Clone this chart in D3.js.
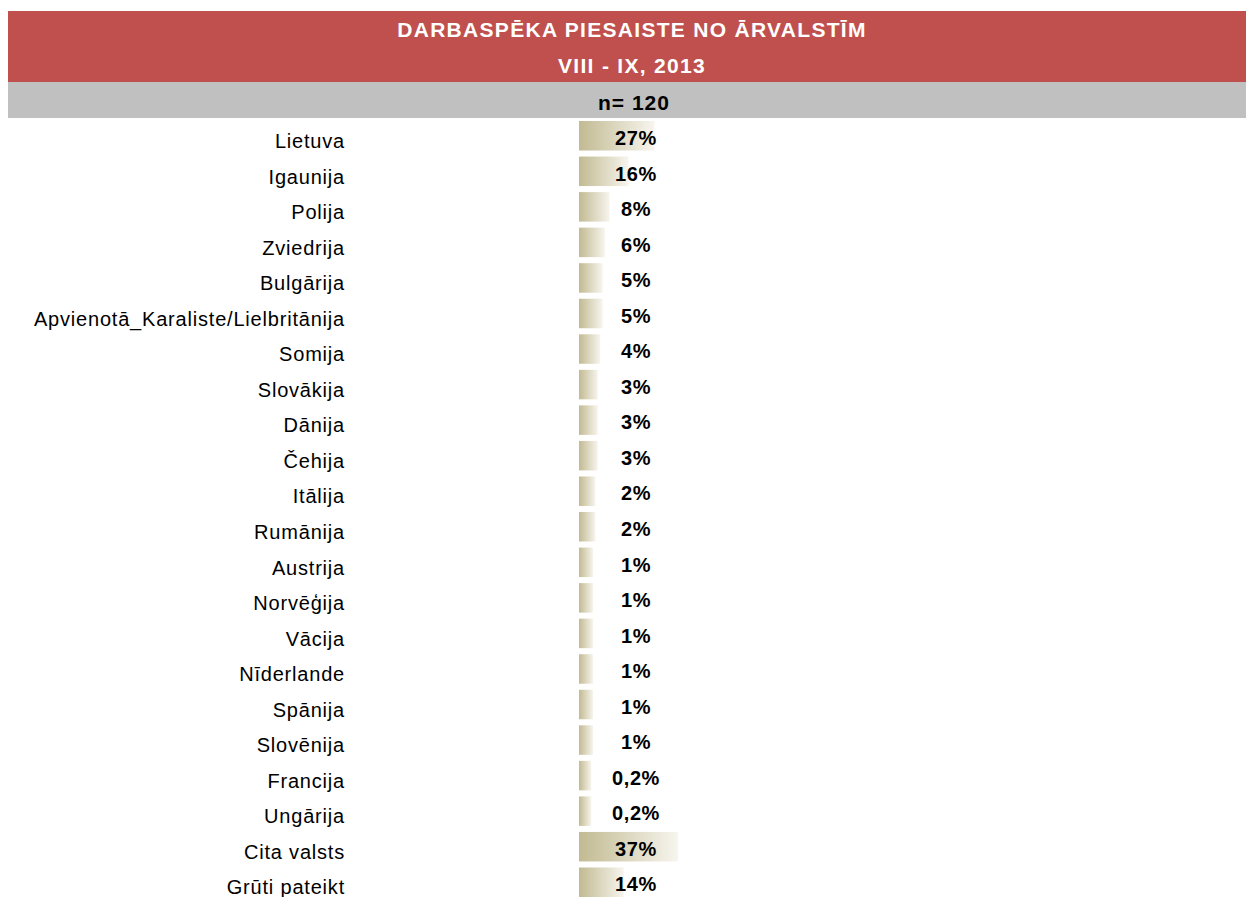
<!DOCTYPE html>
<html>
<head>
<meta charset="utf-8">
<title>Darbaspēka piesaiste no ārvalstīm</title>
<script src="https://d3js.org/d3.v7.min.js"></script>
<style>
body { margin: 0; background: #fff; }
svg text { font-family: "Liberation Sans", Arial, sans-serif; }
</style>
</head>
<body>
<script>
var width = 1246, height = 897;

// chart data
var countries = ["Lietuva", "Igaunija", "Polija", "Zviedrija", "Bulgārija",
  "Apvienotā_Karaliste/Lielbritānija", "Somija", "Slovākija", "Dānija", "Čehija",
  "Itālija", "Rumānija", "Austrija", "Norvēģija", "Vācija", "Nīderlande",
  "Spānija", "Slovēnija", "Francija", "Ungārija", "Cita valsts", "Grūti pateikt"];
var shares = [27, 16, 8, 6, 5, 5, 4, 3, 3, 3, 2, 2, 1, 1, 1, 1, 1, 1, 0.2, 0.2, 37, 14];
var titleLines = ["DARBASPĒKA PIESAISTE NO ĀRVALSTĪM", "VIII - IX, 2013"];
var sampleLabel = "n= 120";

var svg = d3.select("body").append("svg")
  .attr("width", width)
  .attr("height", height);

// gradient for bars: khaki on the left fading to near white
var grad = svg.append("defs").append("linearGradient")
  .attr("id", "barGrad")
  .attr("x1", "0%").attr("x2", "100%")
  .attr("y1", "0%").attr("y2", "0%");
grad.append("stop").attr("offset", "0%").attr("stop-color", "#c2ba92");
grad.append("stop").attr("offset", "100%").attr("stop-color", "#f7f5ee");

// header bands
svg.append("rect").attr("x", 8).attr("y", 11).attr("width", width - 8).attr("height", 71)
  .attr("fill", "#c0504d");
svg.append("rect").attr("x", 8).attr("y", 82).attr("width", width - 8).attr("height", 36)
  .attr("fill", "#c0c0c0");

svg.selectAll("text.title")
  .data(titleLines)
  .enter().append("text")
  .attr("class", "title")
  .attr("x", 632)
  .attr("y", (d, i) => 37 + i * 35.5)
  .attr("text-anchor", "middle")
  .attr("fill", "#fff")
  .attr("font-weight", "bold")
  .attr("font-size", 21)
  .attr("letter-spacing", 1.3)
  .text(d => d);

svg.append("text")
  .attr("x", 634)
  .attr("y", 110)
  .attr("text-anchor", "middle")
  .attr("font-weight", "bold")
  .attr("font-size", 21)
  .attr("letter-spacing", 1)
  .text(sampleLabel);

var x = d3.scaleLinear()
  .domain([-5, 40])
  .range([579, 685]);

var y = d3.scaleBand()
  .domain(countries)
  .range([121, 897])
  .paddingInner(0.17)
  .paddingOuter(0);

var rows = svg.selectAll("g.row")
  .data(countries)
  .enter().append("g")
  .attr("class", "row")
  .attr("transform", d => "translate(0," + y(d) + ")");

rows.append("rect")
  .attr("x", x(-5))
  .attr("width", (d, i) => x(shares[i]) - x(-5))
  .attr("height", y.bandwidth())
  .attr("fill", "url(#barGrad)");

rows.append("text")
  .attr("x", 345)
  .attr("y", 27)
  .attr("text-anchor", "end")
  .attr("font-size", 20)
  .attr("letter-spacing", 0.8)
  .attr("fill", "#000")
  .text(d => d);

rows.append("text")
  .attr("x", 636)
  .attr("y", 24)
  .attr("text-anchor", "middle")
  .attr("font-size", 20)
  .attr("font-weight", "bold")
  .attr("letter-spacing", 0.6)
  .attr("fill", "#000")
  .text((d, i) => String(shares[i]).replace(".", ",") + "%");
</script>
</body>
</html>
